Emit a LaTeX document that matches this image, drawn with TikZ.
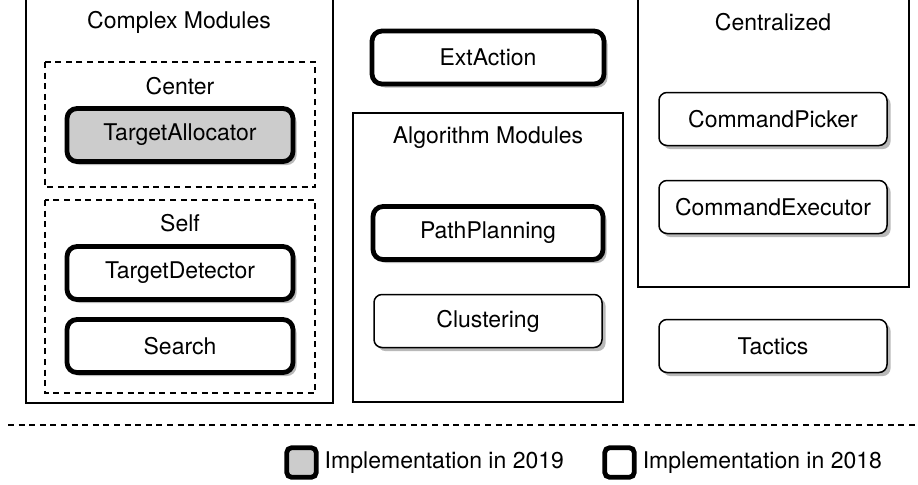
\documentclass[tikz,border=0pt]{standalone}
\usepackage{fontspec}
\setmainfont{TeX Gyre Heros}
\usepackage{tikz}
\usetikzlibrary{shadows}
\definecolor{done}{RGB}{204, 204, 204}
\definecolor{shade}{RGB}{185, 185, 185}
\def\modw{114pt}
\def\modh{26.5pt}

\begin{document}
\begin{tikzpicture}[x=0.5pt, y=-0.5pt, line width=0.75pt, line cap=round,
    font=\fontsize{11.5}{13}\selectfont,
    module/.style={draw, rounded corners=4pt, fill=white, minimum width=\modw, minimum height=\modh,
        drop shadow={shadow xshift=1.8pt, shadow yshift=-1.8pt, fill=shade, opacity=1}},
    modold/.style={module, line width=2.4pt, rounded corners=5pt, minimum width=\modw-1pt},
    modnew/.style={modold, fill=done},
    group/.style={line width=0.75pt},
    subgroup/.style={line width=0.75pt, dash pattern=on 3pt off 2.3pt, line cap=butt},
    keybox/.style={draw, line width=2.4pt, rounded corners=2.5pt, minimum size=14.8pt, inner sep=0pt}]

                 \clip (0, 0) rectangle (918, 484);

                 % containers
                 \draw[group] (26, -5) rectangle (333, 403);
                 \draw[subgroup] (45, 62) rectangle (315, 187);
                 \draw[subgroup] (45, 200) rectangle (315, 393);
                 \draw[group] (353, 113) rectangle (623, 402);
                 \draw[group] (638, -5) rectangle (909, 287);

                 \node (complex) at (179, 22) {Complex Modules};
                 \node (center) at (180, 86) {Center};
                 \node (self) at (180, 223) {Self};
                 \node (algorithm) at (488, 138) {Algorithm Modules};
                 \node (central) at (773, 22) {Centralized};

                 % modules
                 \node[modnew] (allocator) at (180, 135) {TargetAllocator};
                 \node[modold] (detector) at (180, 273) {TargetDetector};
                 \node[modold] (search) at (180, 346) {Search};

                 \node[modold, minimum width=116pt] (extaction) at (488, 57.5) {ExtAction};
                 \node[modold, minimum width=115pt] (pathplanning) at (488, 233) {PathPlanning};
                 \node[module] (clustering) at (488, 321) {Clustering};

                 \node[module] (picker) at (773, 119) {CommandPicker};
                 \node[module] (executor) at (773, 207) {CommandExecutor};
                 \node[module] (tactics) at (773, 346) {Tactics};

                 % legend
                 \draw[subgroup] (8, 425) -- (918, 425);

                 \node[keybox, fill=done] (key19) at (301.5, 462.5) {};
                 \node[anchor=west, inner sep=0pt] (text19) at (324, 462.5) {Implementation in 2019};
                 \node[keybox, fill=white] (key18) at (619.5, 462.5) {};
                 \node[anchor=west, inner sep=0pt] (text18) at (642, 462.5) {Implementation in 2018};

             \end{tikzpicture}
\end{document}
